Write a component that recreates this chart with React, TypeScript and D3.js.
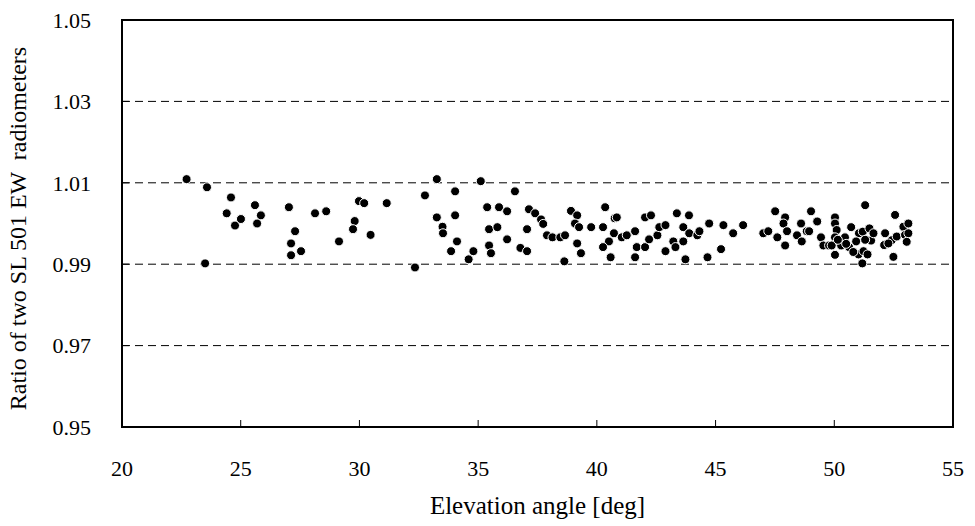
import React from "react";
import * as d3 from "d3";

const elevation: number[] = [
  22.72, 23.58, 23.5, 24.59, 24.41, 24.76, 25.01, 25.6, 25.85, 25.69,
  27.03, 27.29, 27.12, 27.54, 27.12, 28.13, 28.6, 29.14, 29.98, 30.2,
  29.8, 29.73, 30.47, 31.15, 32.34, 32.76, 33.26, 34.03, 33.26, 34.03,
  33.5, 33.52, 34.11, 33.86, 34.6, 34.8, 35.11, 36.55, 35.38, 35.88,
  36.22, 35.46, 35.81, 36.22, 35.46, 35.54, 37.06, 37.14, 37.4, 37.65,
  37.74, 36.78, 37.06, 37.9, 38.13, 38.46, 38.66, 38.63, 38.91, 39.17,
  39.08, 39.25, 39.76, 39.17, 39.33, 40.26, 40.35, 40.75, 40.72, 40.51,
  40.26, 40.58, 40.84, 41.05, 41.26, 41.61, 41.68, 41.61, 42.03, 42.03,
  42.28, 42.2, 42.55, 42.63, 42.89, 42.89, 43.22, 43.31, 43.37, 43.88,
  43.64, 43.64, 43.73, 43.89, 44.23, 44.32, 44.73, 44.66, 45.23, 45.33,
  45.74, 46.16, 47.01, 47.22, 47.51, 47.93, 47.86, 47.6, 48.01, 47.93,
  48.43, 48.6, 48.63, 48.84, 48.94, 49.02, 49.28, 49.44, 49.54, 49.78,
  50.03, 50.03, 50.1, 50.03, 49.89, 50.03, 50.29, 50.45, 50.71, 50.62,
  50.5, 51.04, 50.92, 51.02, 51.18, 51.3, 51.2, 51.48, 51.55, 51.23,
  51.4, 51.65, 52.14, 52.56, 52.1, 52.42, 52.49, 52.28, 52.63, 52.91,
  52.98, 53.12, 53.12, 53.05, 50.15, 51.3, 50.8,
];

const ratio: number[] = [
  1.0109, 1.0089, 0.9902, 1.0064, 1.0025, 0.9995, 1.0011, 1.0045, 1.002, 1.0,
  1.004, 0.9981, 0.9951, 0.9932, 0.9922, 1.0025, 1.003, 0.9956, 1.0055, 1.005,
  1.0006, 0.9986, 0.9972, 1.005, 0.9892, 1.0069, 1.0109, 1.0079, 1.0015, 1.002,
  0.9992, 0.9976, 0.9956, 0.9932, 0.9912, 0.9932, 1.0104, 1.0079, 1.004, 1.004,
  1.003, 0.9986, 0.9991, 0.9961, 0.9946, 0.9927, 0.9986, 1.0035, 1.0025, 1.001,
  0.9999, 0.994, 0.9932, 0.9971, 0.9966, 0.9966, 0.9971, 0.9907, 1.0031, 1.002,
  1.0, 0.9991, 0.9991, 0.9951, 0.9927, 0.9991, 1.004, 1.0013, 0.9976, 0.9956,
  0.9942, 0.9917, 1.0015, 0.9966, 0.9971, 0.9981, 0.9942, 0.9917, 0.9942, 1.0015,
  1.002, 0.9961, 0.9971, 0.9991, 0.9996, 0.9932, 0.9956, 0.9942, 1.0025, 1.002,
  0.9991, 0.9956, 0.9912, 0.9976, 0.9971, 0.9981, 1.0, 0.9917, 0.9937, 0.9996,
  0.9976, 0.9996, 0.9976, 0.9981, 1.003, 1.0015, 1.0, 0.9966, 0.9981, 0.9946,
  0.9971, 1.0, 0.9956, 0.9981, 0.9981, 1.003, 1.0005, 0.9966, 0.9946, 0.9946,
  1.0015, 1.0, 0.9984, 0.9966, 0.9946, 0.9923, 0.9946, 0.9966, 0.9991, 0.9942,
  0.995, 0.9976, 0.9956, 0.9924, 0.9902, 1.0045, 0.998, 0.9988, 0.9958, 0.9932,
  0.9924, 0.9976, 0.9976, 1.0021, 0.9947, 0.9959, 0.9918, 0.9951, 0.9968, 0.9992,
  0.9972, 1.0, 0.9976, 0.9955, 0.996, 0.996, 0.993,
];

const xTicks: number[] = [20, 25, 30, 35, 40, 45, 50, 55];
const yTicks: number[] = [0.95, 0.97, 0.99, 1.01, 1.03, 1.05];
const yTickLabels: string[] = ["0.95", "0.97", "0.99", "1.01", "1.03", "1.05"];
const xTitle = "Elevation angle [deg]";
const yTitle = "Ratio of two SL 501 EW  radiometers";

const W = 975;
const H = 526;
const left = 122;
const right = 953;
const top = 20;
const bottom = 427;
const font = "Liberation Serif, Times New Roman, Times, serif";

export default function App() {
  const x = d3.scaleLinear().domain([20, 55]).range([left, right]);
  const y = d3.scaleLinear().domain([0.95, 1.05]).range([bottom, top]);
  const pts = elevation.map((e, i) => ({ e, r: ratio[i] }));
  const txt = { fontFamily: font, whiteSpace: "pre" as const };

  return (
    <svg
      width={W}
      height={H}
      style={{ position: "absolute", left: 0, top: 0, background: "#fff" }}
    >
      <rect x={0} y={0} width={W} height={H} fill="#fff" />
      {yTicks.slice(1, -1).map((t) => (
        <line
          key={"g" + t}
          x1={left}
          x2={right}
          y1={y(t)}
          y2={y(t)}
          stroke="#000"
          strokeWidth={1}
          strokeDasharray="8,5"
        />
      ))}
      {xTicks.slice(1, -1).map((t) => (
        <line key={"xt" + t} x1={x(t)} x2={x(t)} y1={bottom} y2={bottom - 7} stroke="#000" strokeWidth={1} />
      ))}
      {yTicks.map((t) => (
        <line key={"yt" + t} x1={left} x2={left + 7} y1={y(t)} y2={y(t)} stroke="#000" strokeWidth={1} />
      ))}
      <rect
        x={left}
        y={top}
        width={right - left}
        height={bottom - top}
        fill="none"
        stroke="#000"
        strokeWidth={2}
      />
      {pts.map((p, i) => (
        <circle
          key={i}
          cx={x(p.e)}
          cy={y(p.r)}
          r={4.5}
          fill="#000"
          stroke="#fff"
          strokeWidth={1}
        />
      ))}
      {yTicks.map((t, i) => (
        <text
          key={"yl" + t}
          x={91}
          y={y(t)}
          dy="0.35em"
          textAnchor="end"
          style={txt}
          fontSize={22}
          fill="#000"
        >
          {yTickLabels[i]}
        </text>
      ))}
      {xTicks.map((t) => (
        <text
          key={"xl" + t}
          x={x(t)}
          y={476}
          textAnchor="middle"
          style={txt}
          fontSize={22}
          fill="#000"
        >
          {t}
        </text>
      ))}
      <text
        x={(left + right) / 2}
        y={514}
        textAnchor="middle"
        style={txt}
        fontSize={25}
        fill="#000"
      >
        {xTitle}
      </text>
      <text
        transform={`translate(26, ${(top + bottom) / 2 + 5}) rotate(-90)`}
        textAnchor="middle"
        style={txt}
        fontSize={24}
        fill="#000"
      >
        {yTitle}
      </text>
    </svg>
  );
}
